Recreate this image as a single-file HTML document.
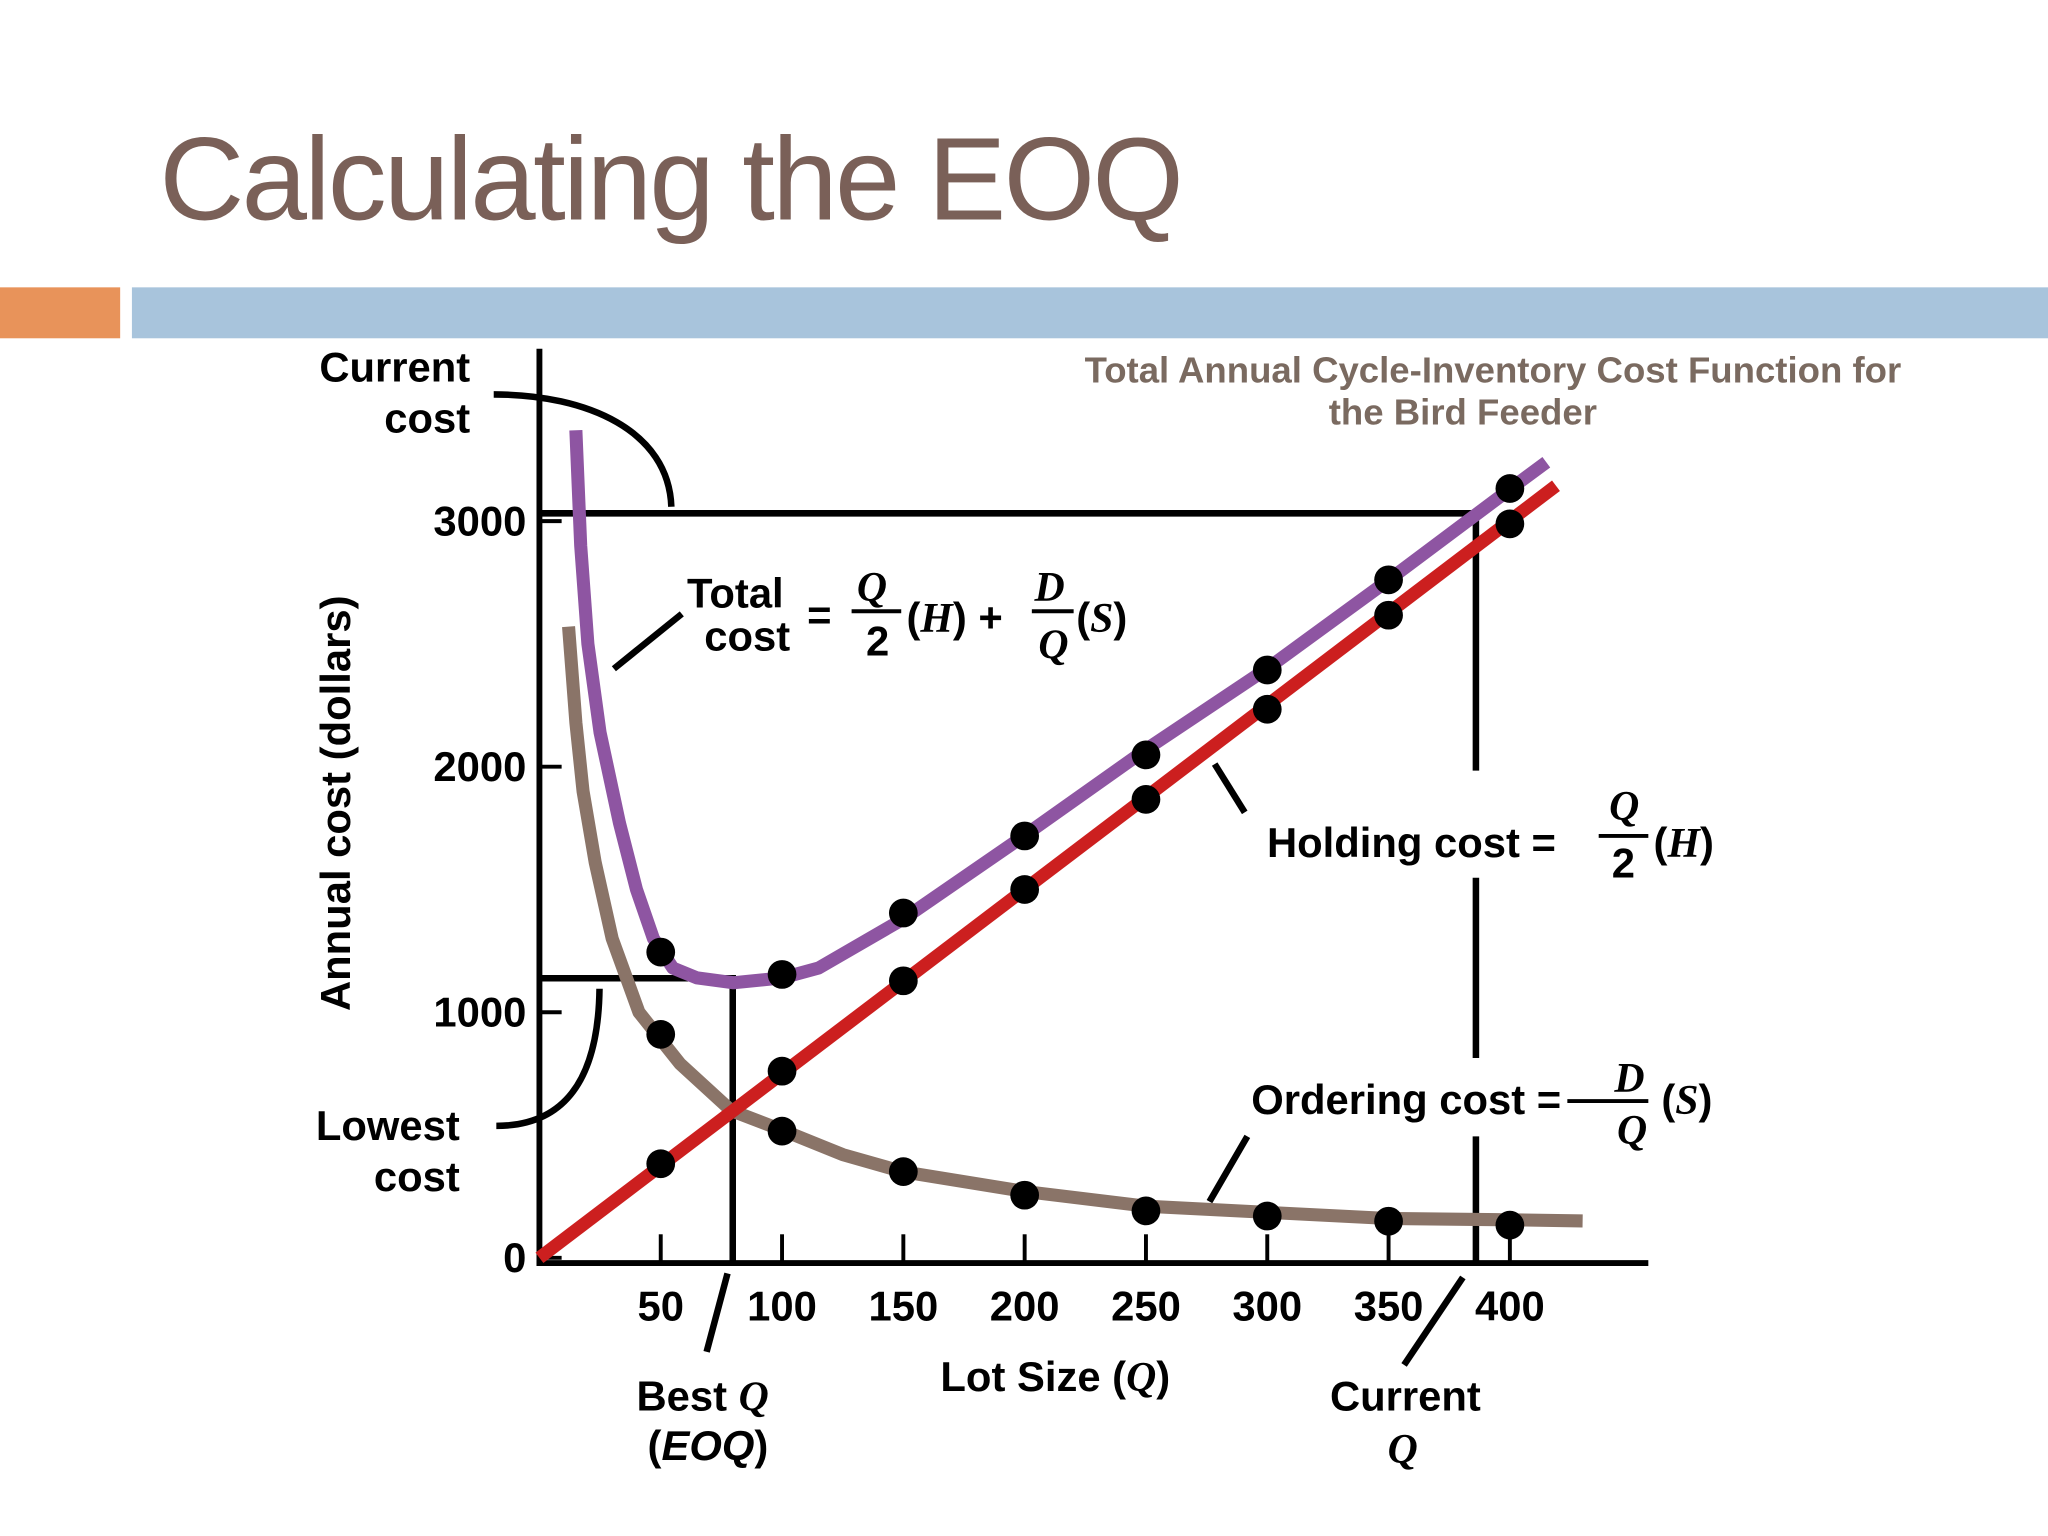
<!DOCTYPE html>
<html><head><meta charset="utf-8"><style>
html,body{margin:0;padding:0;background:#fff;}
svg{display:block;}
text{font-family:"Liberation Sans",sans-serif;}
.b{font-weight:bold;font-size:32px;fill:#000;}
.i{font-family:"Liberation Serif",serif;font-style:italic;font-weight:bold;}
</style></head><body>
<svg id="chart" width="2048" height="1536" viewBox="0 0 1568 1176" xmlns="http://www.w3.org/2000/svg">
<text x="122" y="168" font-size="90" fill="#7a6058" letter-spacing="-2">Calculating the EOQ</text>
<rect x="0" y="220" width="92" height="39" fill="#e8935a"/>
<rect x="101" y="220" width="1467" height="39" fill="#a8c4dc"/>
<text x="1143" y="293" font-size="28" font-weight="bold" fill="#7a6a60" text-anchor="middle">Total Annual Cycle-Inventory Cost Function for</text>
<text x="1120" y="325" font-size="28" font-weight="bold" fill="#7a6a60" text-anchor="middle">the Bird Feeder</text>
<g id="axes" stroke="#000" stroke-width="4.5" fill="none"></g>
<g id="ticks"></g>
<g id="refs" stroke="#000" stroke-width="5" fill="none">
<path d="M413 393 H1130 V590 M1130 672 V810 M1130 870 V967"/>
<path d="M413 749 H561 V967"/>
<path d="M378 302 C450 302 512 330 514 388"/>
<path d="M380 862 C430 862 458 830 459 757"/>
<path d="M470 512 L522 470"/>
<path d="M930 585 L953 622"/>
<path d="M926 920 L955 870"/>
<path d="M541 1035 L557 975"/>
<path d="M1075 1045 L1120 978"/>
</g>
<g id="series"></g>
<text class="b" transform="translate(268 615) rotate(-90)" text-anchor="middle" font-size="30">Annual cost (dollars)</text>
<text class="b" x="720" y="1065">Lot Size (<tspan class="i">Q</tspan>)</text>
<text class="b" x="360" y="292" text-anchor="end">Current</text>
<text class="b" x="360" y="331" text-anchor="end">cost</text>
<text class="b" x="352" y="873" text-anchor="end">Lowest</text>
<text class="b" x="352" y="912" text-anchor="end">cost</text>
<text class="b" x="538" y="1080" text-anchor="middle">Best <tspan class="i">Q</tspan></text>
<text class="b" x="542" y="1118" text-anchor="middle">(<tspan font-style="italic">EOQ</tspan>)</text>
<text class="b" x="1076" y="1080" text-anchor="middle">Current</text>
<text class="b i" x="1074" y="1120" text-anchor="middle">Q</text>
<g>
<text class="b" x="600" y="465" text-anchor="end">Total</text><text class="b" x="605" y="498" text-anchor="end">cost</text>
<text class="b" x="618" y="482">=</text>
<text class="b i" x="656" y="460">Q</text><line x1="652" y1="468" x2="690" y2="468" stroke="#000" stroke-width="3"/><text class="b" x="663" y="502">2</text>
<text class="b" x="694" y="484">(<tspan class="i">H</tspan>) +</text>
<text class="b i" x="792" y="460">D</text><line x1="790" y1="468" x2="822" y2="468" stroke="#000" stroke-width="3"/><text class="b i" x="795" y="504">Q</text>
<text class="b" x="824" y="484">(<tspan class="i">S</tspan>)</text>
</g>
<g>
<text class="b" x="970" y="656">Holding cost =</text>
<text class="b i" x="1232" y="628">Q</text><line x1="1224" y1="640" x2="1262" y2="640" stroke="#000" stroke-width="3"/><text class="b" x="1234" y="672">2</text>
<text class="b" x="1266" y="656">(<tspan class="i">H</tspan>)</text>
</g>
<g>
<text class="b" x="958" y="853">Ordering cost =</text>
<text class="b i" x="1236" y="836">D</text><line x1="1200" y1="843" x2="1262" y2="843" stroke="#000" stroke-width="3"/><text class="b i" x="1238" y="876">Q</text>
<text class="b" x="1272" y="853">(<tspan class="i">S</tspan>)</text>
</g>
</svg>
<script>
const xTicks=[50,100,150,200,250,300,350,400];
const yTicks=[0,1000,2000,3000];
const dotQ=[50,100,150,200,250,300,350,400];
const holdingVals=[383,760,1128,1500,1867,2234,2617,2989];
const orderingVals=[910,516,351,255,191,170,149,133];
const totalVals=[1245,1154,1404,1718,2048,2394,2761,3133];
const holdLineQ=[0,419];
const holdLineV=[0,3144];
const orderCurveQ=[12,15,18,23,30,41,58,79,100,125,150,200,250,300,350,400,430];
const orderCurveV=[2570,2180,1900,1610,1300,1000,790,600,520,420,350,270,210,185,160,155,150];
const totalCurveQ=[15,17,20,25,33,40,47,55,65,80,100,115,150,200,250,300,350,400,415];
const totalCurveV=[3370,2900,2500,2140,1770,1500,1300,1180,1140,1120,1140,1180,1380,1720,2070,2400,2760,3130,3240];
const NS='http://www.w3.org/2000/svg';
const X=q=>413+q*1.8575;
const Y=v=>963-v*0.188;
function mk(tag,at,parent){const e=document.createElementNS(NS,tag);for(const k in at)e.setAttribute(k,at[k]);parent.appendChild(e);return e;}
const axes=document.getElementById('axes'),ticks=document.getElementById('ticks'),series=document.getElementById('series');
let a=mk('path',{d:'M413 267 V967 H1262'},axes);


xTicks.forEach(q=>{
 let t=mk('line',{x1:X(q),x2:X(q),y1:945,y2:967,stroke:'#000','stroke-width':3},ticks);
 
 
 let l=mk('text',{x:X(q),y:1011,'text-anchor':'middle',class:'b'},ticks);l.textContent=q;
 
 
});
yTicks.forEach(v=>{
 let t=mk('line',{x1:413,x2:430,y1:Y(v),y2:Y(v),stroke:'#000','stroke-width':3},ticks);
 
 
 let l=mk('text',{x:403,y:Y(v)+11,'text-anchor':'end',class:'b'},ticks);l.textContent=v;
 
 
});
function line(qs,vs,color,name){
 const d=qs.map((q,i)=>(i?'L':'M')+X(q).toFixed(1)+' '+Y(vs[i]).toFixed(1)).join(' ');
 let p=mk('path',{d:d,stroke:color,'stroke-width':10,fill:'none','stroke-linejoin':'round'},series);
 
 
}
function dots(vals,name){
 dotQ.forEach((q,i)=>{
  let c=mk('circle',{cx:X(q),cy:Y(vals[i]),r:11,fill:'#000'},series);
  
  
 });
}
line(orderCurveQ,orderCurveV,'#8a7468','ordering-cost-curve');
line(totalCurveQ,totalCurveV,'#8e55a2','total-cost-curve');
line(holdLineQ,holdLineV,'#cc1f1f','holding-cost-line');
dots(orderingVals,'ordering-cost-point');
dots(totalVals,'total-cost-point');
dots(holdingVals,'holding-cost-point');
</script>
</body></html>
